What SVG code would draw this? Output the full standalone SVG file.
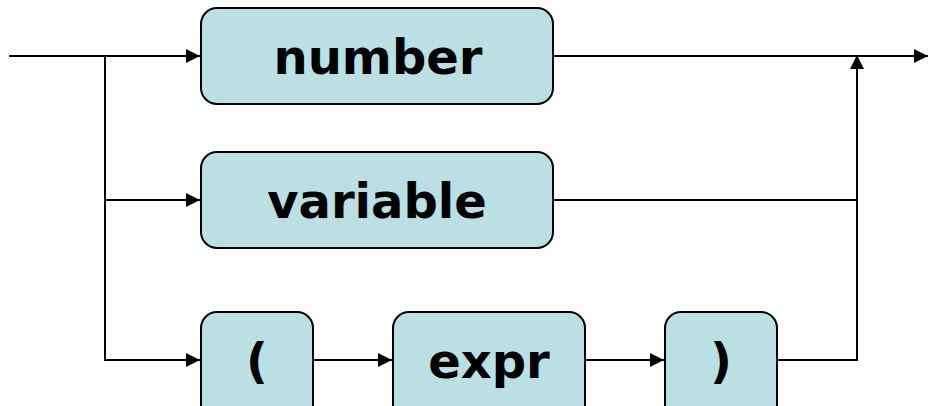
<svg xmlns="http://www.w3.org/2000/svg" width="928" height="406" viewBox="0 0 928 406">
<style>
.box{fill:#BBE0E3;stroke:#000;stroke-width:2}
.lbl{font-family:"DejaVu Sans",sans-serif;font-weight:bold;font-size:48px;fill:#000;text-anchor:middle}
.ln{fill:none;stroke:#000;stroke-width:2}
</style>
<defs>
<marker id="arr" viewBox="0 0 14 14" refX="14" refY="7" markerWidth="14" markerHeight="14" markerUnits="userSpaceOnUse" orient="auto">
<path d="M0,0 L14,7 L0,14 Z" fill="#000"/>
</marker>
</defs>
<rect width="928" height="406" fill="#fff"/>
<g id="connectors">
<line class="ln" x1="9" y1="56" x2="200" y2="56" marker-end="url(#arr)"/>
<polyline class="ln" points="105,56 105,200 200,200" marker-end="url(#arr)"/>
<polyline class="ln" points="105,200 105,360 200,360" marker-end="url(#arr)"/>
<line class="ln" x1="313" y1="360" x2="392" y2="360" marker-end="url(#arr)"/>
<line class="ln" x1="585" y1="360" x2="664" y2="360" marker-end="url(#arr)"/>
<line class="ln" x1="553" y1="56" x2="928" y2="56" marker-end="url(#arr)"/>
<line class="ln" x1="553" y1="200" x2="857" y2="200"/>
<polyline class="ln" points="777,360 857,360 857,55" marker-end="url(#arr)"/>
</g>
<g id="number">
<rect class="box" x="201" y="8" width="352" height="96" rx="16"/>
<text class="lbl" x="378" y="74">number</text>
</g>
<g id="variable">
<rect class="box" x="201" y="152" width="352" height="96" rx="16"/>
<text class="lbl" x="377" y="218">variable</text>
</g>
<g id="lparen">
<rect class="box" x="201" y="312" width="112" height="110" rx="16"/>
<text class="lbl" x="257" y="378">(</text>
</g>
<g id="expr">
<rect class="box" x="393" y="312" width="192" height="110" rx="16"/>
<text class="lbl" x="489" y="378">expr</text>
</g>
<g id="rparen">
<rect class="box" x="665" y="312" width="112" height="110" rx="16"/>
<text class="lbl" x="721" y="378">)</text>
</g>
</svg>
